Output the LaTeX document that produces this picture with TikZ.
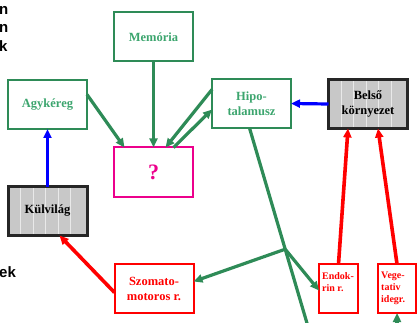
\documentclass[tikz,border=0pt]{standalone}
\usepackage{fontspec}
\setmainfont{Liberation Serif}
\newfontfamily\fragfont{Liberation Sans}
\usetikzlibrary{positioning, arrows.meta}

\definecolor{boxgreen}{RGB}{46,139,87}
\definecolor{textgreen}{RGB}{60,165,110}
\definecolor{envgray}{RGB}{200,200,200}

\begin{document}
\begin{tikzpicture}[
    x=1pt, y=-1pt,
    font=\bfseries\fontsize{12.5}{15}\selectfont,
    boxstyle/.style={
        draw, line width=2pt,
        minimum width=79pt, minimum height=49pt,
        inner sep=1pt, outer sep=0pt, align=center, anchor=center
    },
    greenbox/.style={boxstyle, draw=boxgreen, text=textgreen},
    redbox/.style={boxstyle, draw=red, text=red},
    smallbox/.style={redbox, minimum width=39pt},
    graybox/.style={
        boxstyle, draw=black!85, line width=3pt, fill=envgray, text=black,
        path picture={
            \foreach \i in {1,...,5}
                \draw[envgray!40!white, line width=0.6pt]
                    ([xshift=\i*12.5pt]path picture bounding box.south west)
                    -- ([xshift=\i*12.5pt]path picture bounding box.north west);
        }
    },
    redtext/.style={
        text=red, align=left, inner sep=0pt,
        font=\bfseries\fontsize{10}{12}\selectfont
    },
    fragtext/.style={
        anchor=base west, inner sep=0pt,
        font=\fragfont\bfseries\fontsize{15}{18}\selectfont
    },
    arrowstyle/.style={->, >={Triangle[length=9pt, width=8pt]}, line width=3.2pt},
    greenarrow/.style={arrowstyle, draw=boxgreen, fill=boxgreen},
    bluearrow/.style={arrowstyle, draw=blue, fill=blue},
    redarrow/.style={arrowstyle, draw=red, fill=red, line width=3.6pt}
]
\useasboundingbox (0,0) rectangle (417,323);
\clip (0,0) rectangle (417,323);

% Text cut at the left edge
\node[fragtext] (fragA) at (-1,15) {n};
\node[fragtext] (fragB) at (-1,33) {n};
\node[fragtext] (fragC) at (-1,52) {k};
\node[fragtext] (fragD) at (-1,277) {ek};

% Upper row
\node[greenbox] (mem) at (153.5,37) {Memória};
\node[greenbox] (agy) at (47.5,104.5) {Agykéreg};
\node[greenbox] (hipo) at (251.5,103.5) {Hipo-\\talamusz};
\node[graybox] (belso) at (368,104) {Belső\\környezet};

% Middle
\node[boxstyle, draw=magenta, text=magenta,
      font=\bfseries\fontsize{22}{24}\selectfont] (quest) at (153.5,172) {?};
\node[graybox] (kul) at (47.5,211) {Külvilág};

% Lower row
\node[redbox] (szom) at (154,288.5) {Szomato-\\motoros r.};
\node[smallbox] (endo) at (338.5,288.5) {};
\node[redtext, below right=8pt and 3pt of endo.north west] (endotext) {Endok-\\rin r.};
\node[smallbox, minimum width=38pt] (veg) at (397,288.5) {};
\node[redtext, below right=8pt and 3pt of veg.north west] (vegtext) {Vege-\\tativ\\idegr.};

% Green arrows
\draw[greenarrow] ([yshift=10pt]agy.east) -- ([xshift=-29pt]quest.north);
\draw[greenarrow] (mem) -- (quest);
\draw[greenarrow] ([yshift=14pt]hipo.west) -- ([xshift=12pt]quest.north);
\draw[greenarrow] ([xshift=20pt]quest.north) -- ([yshift=-6pt]hipo.west);
\coordinate (offbottom) at (309,330);
\draw[boxgreen, line width=3.2pt] ([xshift=-2pt]hipo.south) -- coordinate[pos=0.6] (junc) (offbottom);
\draw[greenarrow] (junc) -- ([yshift=7pt]szom.east);
\draw[greenarrow] (junc) -- ([yshift=-2pt]endo.west);
\coordinate (vegbelow) at (397,335);
\draw[greenarrow] (vegbelow) -- (veg.south);

% Blue arrows
\draw[bluearrow] (belso.west) -- (hipo.east);
\draw[bluearrow] (kul.north) -- (agy.south);

% Red arrows
\draw[redarrow] ([yshift=-4pt]szom.west) -- ([xshift=12pt]kul.south);
\draw[redarrow] (endo.north) -- ([xshift=-20pt]belso.south);
\draw[redarrow] (veg.north) -- ([xshift=10pt]belso.south);

\end{tikzpicture}
\end{document}
